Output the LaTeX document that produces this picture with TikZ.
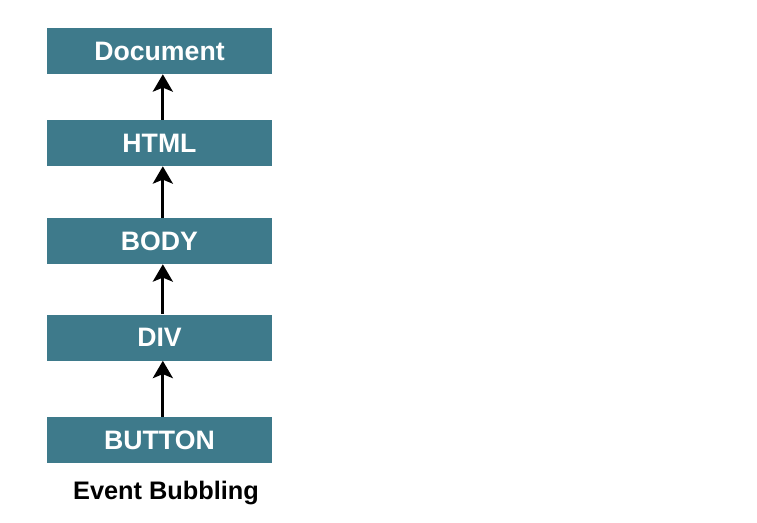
\documentclass[tikz,border=0pt]{standalone}
\usepackage{fontspec}
\setmainfont{Liberation Sans}
\usetikzlibrary{arrows.meta}
\definecolor{boxteal}{HTML}{3E7A8B}
\begin{document}
\begin{tikzpicture}[x=0.75pt,y=-0.75pt,
  elem/.style={draw=none,fill=boxteal,minimum width=168.75pt,minimum height=34.5pt,inner sep=0pt,
    text=white,font=\fontsize{20}{24}\selectfont\bfseries},
  uparrow/.style={line width=2.3pt,-{Stealth[length=13pt,width=15pt,inset=3pt]}}]
\useasboundingbox (0,0) rectangle (757,522);
\node[elem] (doc) at (159.5,51) {Document};
\node[elem] (html) at (159.5,143) {HTML};
\node[elem] (body) at (159.5,241) {BODY};
\node[elem] (div) at (159.5,337.5) {DIV};
\node[elem] (btn) at (159.5,440) {BUTTON};
\node[font=\fontsize{19}{22}\selectfont\bfseries] (cap) at (166,493) {Event Bubbling};
\draw[uparrow] ([xshift=2.5]html.north) -- ([xshift=2.5]doc.south);
\draw[uparrow] ([xshift=2.5]body.north) -- ([xshift=2.5]html.south);
\draw[uparrow] ([xshift=2.5]div.north) -- ([xshift=2.5]body.south);
\draw[uparrow] ([xshift=2.5]btn.north) -- ([xshift=2.5]div.south);
\end{tikzpicture}
\end{document}
